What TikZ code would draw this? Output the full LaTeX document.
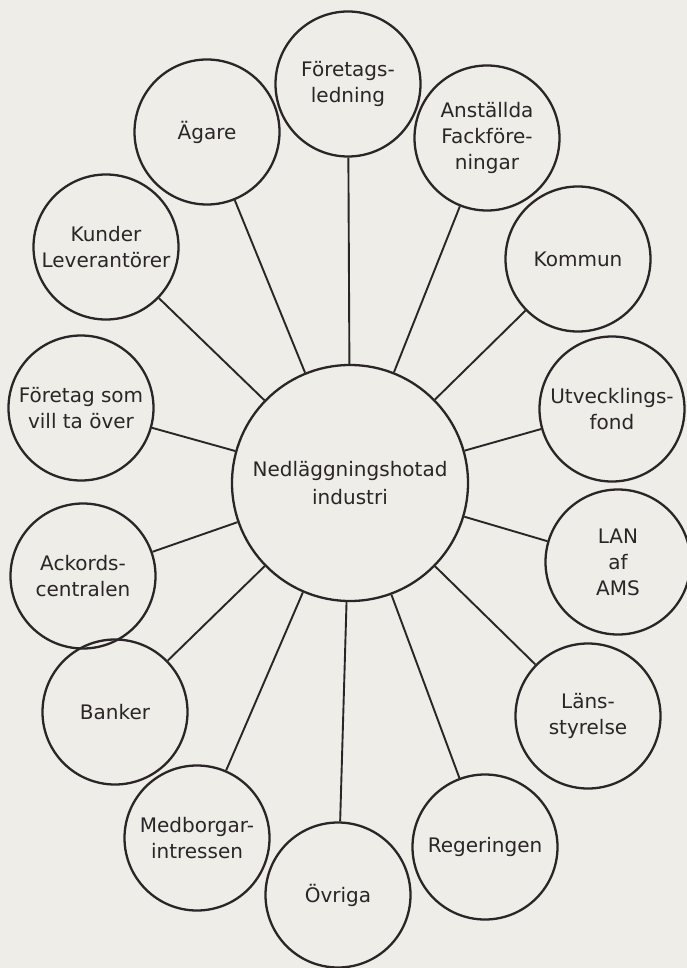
\documentclass[tikz,border=0pt]{standalone}
\usepackage{fontspec}
\setmainfont{DejaVu Sans}
\definecolor{paper}{HTML}{EEEDE8}
\definecolor{ink}{HTML}{2B2527}
\tikzstyle{hub} = [circle, draw=ink, line width=2.3pt, minimum size=236pt, inner sep=0pt, align=center, text=ink]
\tikzstyle{party} = [circle, draw=ink, line width=2.3pt, minimum size=145pt, inner sep=0pt, align=center, text=ink]
\tikzstyle{spoke} = [draw=ink, line width=1.9pt]

\begin{document}
\begin{tikzpicture}[x=1pt, y=-1pt, font=\fontsize{20}{26}\selectfont]
    \fill [paper] (0,0) rectangle (687,968);
    \useasboundingbox (0,0) rectangle (687,968);

    \node (hub) [hub, font=\fontsize{20}{28}\selectfont] at (350,483) {Nedläggningshotad\\industri};

    \node (ledn) [party] at (348,84) {Företags-\\ledning};
    \node (agare) [party] at (207,132) {Ägare};
    \node (anst) [party] at (487,138) {Anställda\\Fackföre-\\ningar};
    \node (kund) [party] at (106,247) {Kunder\\Leverantörer};
    \node (komm) [party] at (578,259) {Kommun};
    \node (overtag) [party] at (81,408) {Företag som\\vill ta över};
    \node (utv) [party] at (612,409) {Utvecklings-\\fond};
    \node (ack) [party] at (83,576) {Ackords-\\centralen};
    \node (lan) [party] at (618,562) {LAN\\af\\AMS};
    \node (bank) [party] at (115,712) {Banker};
    \node (lans) [party] at (588,716) {Läns-\\styrelse};
    \node (medb) [party] at (197,838) {Medborgar-\\intressen};
    \node (ovr) [party] at (338,895) {Övriga};
    \node (reg) [party] at (485,847) {Regeringen};

    \draw [spoke] (hub) -- (ledn);
    \draw [spoke] (hub) -- (agare);
    \draw [spoke] (hub) -- (anst);
    \draw [spoke] (hub) -- (kund);
    \draw [spoke] (hub) -- (komm);
    \draw [spoke] (hub) -- (overtag);
    \draw [spoke] (hub) -- (utv);
    \draw [spoke] (hub) -- (ack);
    \draw [spoke] (hub) -- (lan);
    \draw [spoke] (hub) -- (bank);
    \draw [spoke] (hub) -- (lans);
    \draw [spoke] (hub) -- (medb);
    \draw [spoke] (hub) -- (ovr);
    \draw [spoke] (hub) -- (reg);
\end{tikzpicture}
\end{document}
